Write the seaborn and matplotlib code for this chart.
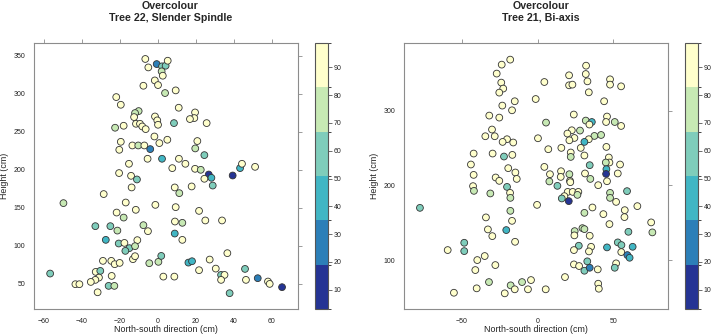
import numpy as np
import matplotlib
matplotlib.use('Agg')
import matplotlib.pyplot as plt
import matplotlib.colors as mcolors
import seaborn as sns

# ──────────────────────────────────────────────
# DATA
# ──────────────────────────────────────────────
# Tree 22, Slender Spindle
t22_ns = [-6.7, -5.1, -0.7, 2.1, 4.0, 5.1, 1.9, 2.5, -1.7, 0.0, -7.7, 3.7, 9.3, -22.0, -19.6,
          10.9, -10.2, -12.1, -12.6, -1.6, -0.4, 0.0, 8.4, -11.6, -9.5, -8.3, -6.5, -22.6, -18.1,
          -1.9, 0.7, 4.9, -19.6, -20.4, -13.5, -10.4, -7.2, -4.1, -5.5, 2.1, 11.0, 7.5, -15.3,
          -20.5, -14.2, -11.1, -13.9, 8.8, -28.6, -49.8, -17.0, -11.7, -1.4, 9.3, -21.8, -18.1,
          -33.0, -25.1, -21.4, -7.7, -5.3, 8.9, 8.8, -27.5, -10.9, -20.7, -17.7, -15.1, -17.2,
          -12.1, -29.0, -24.6, -22.8, -20.2, -13.2, -12.1, -4.6, 0.2, 1.7, -56.8, -32.8, -30.4,
          -31.1, -33.0, -35.4, -24.4, -43.5, -41.4, -26.0, -23.0, -31.8, 2.8, 8.6, 19.5, 19.1,
          16.8, 25.6, 20.7, 19.6, 24.4, 14.4, 19.5, 22.5, 26.7, 28.1, 24.4, 28.8, 39.3, 43.2,
          44.2, 51.1, 17.7, 11.2, 21.6, 12.8, 24.9, 33.7, 12.8, 36.5, 16.0, 17.9, 27.2, 21.6,
          30.4, 33.2, 35.0, 33.2, 37.7, 45.8, 46.3, 52.5, 57.9, 58.8, 65.3]
t22_height = [345.7, 334.6, 339.0, 336.0, 336.8, 343.4, 329.4, 323.7, 317.5, 311.4, 310.5, 300.9,
              304.4, 295.6, 285.5, 281.6, 277.2, 274.6, 269.3, 270.1, 265.0, 259.2, 261.4, 260.5,
              260.5, 257.0, 253.5, 255.3, 257.9, 243.8, 235.1, 239.5, 236.8, 226.3, 232.0, 232.0,
              232.0, 227.2, 214.5, 214.5, 214.5, 202.2, 207.9, 195.7, 192.1, 187.3, 176.8, 176.8,
              168.1, 156.2, 157.0, 147.4, 153.9, 150.9, 143.8, 137.2, 125.9, 125.9, 120.1, 127.2,
              119.3, 132.0, 116.2, 107.9, 107.5, 103.1, 103.9, 97.0, 93.4, 99.6, 80.3, 80.3, 75.9,
              77.6, 82.5, 86.4, 77.2, 79.0, 86.8, 63.6, 65.8, 67.1, 58.3, 55.3, 52.6, 60.5, 49.6,
              49.6, 47.4, 47.4, 39.0, 59.6, 59.6, 275.4, 268.0, 266.7, 261.4, 237.8, 228.1, 219.3,
              207.9, 201.3, 200.0, 193.8, 189.5, 188.2, 179.3, 192.5, 202.2, 207.9, 203.9, 178.1,
              169.3, 146.0, 130.3, 133.4, 133.4, 107.9, 90.4, 78.0, 79.8, 82.0, 68.0, 70.1, 61.8,
              61.8, 55.3, 37.8, 69.7, 55.3, 57.5, 53.1, 50.0, 45.7]
t22_overcolour = [91, 91, 27, 59, 59, 91, 75, 91, 91, 91, 91, 75, 91, 91, 91,
                  91, 75, 75, 91, 91, 91, 91, 59, 91, 91, 91, 91, 75, 91,
                  91, 91, 91, 91, 91, 91, 75, 91, 27, 91, 43, 91, 91, 91,
                  91, 91, 59, 91, 91, 91, 75, 91, 91, 91, 91, 91, 75,
                  59, 59, 75, 75, 91, 91, 43, 43, 91, 59, 91, 59, 59,
                  75, 91, 91, 91, 91, 91, 91, 75, 75, 59, 59, 91, 59,
                  91, 91, 91, 91, 91, 91, 59, 75, 91, 91, 91, 91, 91,
                  91, 91, 91, 75, 59, 91, 91, 75, 10, 43, 91, 59, 10, 43,
                  91, 91, 91, 75, 91, 75, 91, 91, 91, 91, 43, 43, 91, 91,
                  91, 59, 91, 91, 59, 59, 91, 27, 91, 91, 10]

# Tree 21, Bi-axis
t21_ns = [-18.0, -23.6, -26.9, -23.9, -22.6, -25.2, -15.0, -23.2, -16.8, -1.2, -31.8, -25.2,
          -30.0, -34.4, -28.2, -20.1, -23.0, -16.0, 0.3, -42.1, -29.6, -22.1, -16.6, -43.9,
          -19.3, -42.1, -14.6, -13.7, -27.6, -25.2, -20.1, -42.5, -41.9, -31.1, -18.1, -17.9,
          -77.5, -0.3, -17.9, -34.0, -16.8, -32.7, -29.8, -20.6, -14.8, -48.3, -48.3, -59.2,
          -39.7, -34.8, -27.8, -41.0, -32.0, -40.1, -55.1, -17.7, -15.0, -21.6, -10.2, -6.3,
          -4.3, 32.0, 31.8, 20.8, 4.5, 20.8, 23.0, 32.9, 47.8, 47.8, 55.1, 33.8, 43.9, 23.9,
          5.6, 31.8, 35.8, 34.2, 45.8, 45.2, 50.9, 55.1, 22.6, 19.7, 24.3, 21.0, 28.0, 37.5,
          41.9, 33.8, 30.9, 7.1, 15.7, 28.5, 45.4, 21.9, 21.9, 30.9, 47.0, 47.4, 4.5, 34.4,
          45.0, 45.4, 45.2, 54.4, 52.9, 8.2, 15.5, 21.0, 21.4, 15.3, 31.3, 34.8, 7.8, 13.1,
          40.0, 45.8, 59.0, 21.6, 19.9, 23.2, 26.9, 26.3, 17.7, 16.0, 20.6, 47.8, 47.8, 51.8,
          36.2, 30.9, 43.4, 57.5, 57.3, 65.8, 47.4, 74.9, 75.7, 29.6, 30.9, 24.5, 24.3, 34.4,
          59.9, 52.9, 55.3, 27.2, 35.3, 24.0, 33.9, 45.8, 55.2, 59.2, 60.7, 62.7, 32.8, 24.0,
          27.4, 30.9, 34.4, 39.7, 51.8, 50.9, 18.1, 40.0, 40.4, 5.4]
t21_height = [368.7, 362.0, 350.0, 337.9, 329.9, 324.5, 312.9, 307.1, 300.8, 315.9, 293.7, 291.0,
              275.0, 266.0, 266.0, 262.0, 258.4, 257.6, 263.3, 242.8, 242.8, 238.8, 241.0, 228.1,
              223.2, 214.2, 217.4, 208.8, 210.7, 206.2, 198.1, 199.1, 192.8, 189.3, 190.1, 183.4,
              170.0, 174.0, 166.0, 157.2, 152.6, 141.1, 132.1, 140.2, 124.5, 123.2, 112.0, 113.4,
              100.0, 105.4, 93.3, 86.6, 70.5, 62.1, 56.2, 66.1, 60.8, 55.4, 70.5, 60.8,
              73.2, 360.6, 349.4, 347.7, 338.7, 334.3, 335.2, 339.6, 342.3, 335.2, 332.9, 324.9,
              312.9, 295.1, 284.3, 287.0, 285.1, 281.7, 292.4, 285.1, 285.1, 279.8, 274.0, 269.6,
              263.7, 260.6, 273.6, 266.4, 267.7, 262.0, 258.4, 248.6, 250.4, 250.4, 251.7, 244.2,
              238.3, 240.2, 237.5, 230.8, 224.9, 227.2, 230.8, 221.8, 215.5, 228.1, 216.1, 215.1,
              219.1, 215.1, 206.2, 211.5, 216.1, 208.8, 205.4, 199.5, 200.4, 205.7, 192.4, 204.4,
              191.4, 191.4, 191.4, 187.4, 185.7, 182.6, 179.0, 190.1, 183.4, 178.0, 170.5, 163.3,
              161.6, 166.9, 157.6, 172.3, 148.2, 150.5, 137.1, 142.8, 141.5, 138.8, 133.1, 132.6,
              137.9, 123.7, 120.1, 119.2, 117.8, 113.4, 111.6, 117.0, 110.7, 106.7, 103.1, 117.8,
              98.3, 94.2, 92.0, 85.7, 89.7, 87.5, 95.6, 89.7, 77.2, 68.3, 61.6, 60.8]
t21_overcolour = [91, 91, 91, 91, 91, 91, 91, 91, 91, 91, 91, 91,
                  91, 91, 91, 91, 91, 91, 91, 91, 91, 59, 91, 91,
                  91, 91, 91, 91, 91, 91, 59, 91, 75, 75, 91, 75,
                  59, 91, 75, 91, 91, 91, 91, 43, 91, 59, 59, 91,
                  91, 91, 91, 91, 75, 91, 91, 75, 91, 91, 75, 91,
                  91, 91, 91, 91, 91, 91, 91, 91, 91, 91, 91, 91,
                  91, 91, 75, 75, 43, 91, 91, 91, 75, 91, 91, 91,
                  91, 91, 75, 75, 75, 91, 43, 91, 91, 91, 91, 91,
                  75, 91, 91, 91, 91, 59, 75, 43, 10, 91, 91, 91,
                  91, 75, 91, 91, 91, 75, 75, 59, 91, 91, 59, 91,
                  91, 91, 91, 75, 91, 59, 10, 75, 75, 91, 91, 75,
                  91, 91, 91, 91, 91, 91, 75, 75, 75, 75, 91, 91,
                  59, 59, 59, 59, 91, 91, 91, 43, 91, 27, 43, 43,
                  59, 91, 91, 59, 27, 91, 91, 59, 91, 91, 91, 91]

cbar_ticks = [10, 20, 30, 40, 50, 60, 70, 80, 90]

# ──────────────────────────────────────────────
# STYLE
# ──────────────────────────────────────────────
sns.set_style('white')
plt.rcParams['font.family'] = ['Liberation Sans', 'DejaVu Sans']

PALETTE = ['#253494', '#2c7fb8', '#41b6c4', '#7fcdbb', '#c7e9b4', '#ffffcc']
cmap = mcolors.ListedColormap(PALETTE)
bounds = np.linspace(3.1, 98.7, len(PALETTE) + 1)
norm = mcolors.BoundaryNorm(bounds, cmap.N)

FRAME = '#8c8c8c'
W, H = 719, 336

fig = plt.figure(figsize=(W / 100, H / 100), dpi=100)


def px_axes(left, top, right, bottom):
    return fig.add_axes([left / W, 1 - bottom / H, (right - left) / W, (bottom - top) / H])


def panel(ax, cax, x, y, val, xlim, ylim, xticks, yticks, title, cx):
    sns.scatterplot(x=x, y=y, hue=val, palette=cmap, hue_norm=norm, s=24,
                    edgecolor='#333333', linewidth=0.6, legend=False, ax=ax)
    ax.set_xlim(xlim)
    ax.set_ylim(ylim)
    ax.set_xticks(xticks)
    ax.set_yticks(yticks)
    ax.tick_params(direction='out', length=3.1, width=0.6, color=FRAME, labelsize=5,
                   pad=3.2, top=True, right=True, labeltop=False, labelright=False,
                   labelcolor='#222222')
    for sp in ax.spines.values():
        sp.set_color(FRAME)
        sp.set_linewidth(0.8)
    ax.set_xlabel('North-south direction (cm)', fontsize=6.4, color='#222222')
    ax.set_ylabel('Height (cm)', fontsize=6.4, color='#222222')
    # reference label sits right at the bottom edge; keep it just inside the canvas
    ax.xaxis.set_label_coords(0.5, -0.062)
    ax.yaxis.set_label_coords(-0.095, 0.5)

    cb = fig.colorbar(plt.cm.ScalarMappable(norm=norm, cmap=cmap), cax=cax, ticks=cbar_ticks)
    cb.outline.set_edgecolor('#555555')
    cb.outline.set_linewidth(0.8)
    cax.tick_params(direction='out', length=3, width=0.6, color='#555555', labelsize=5,
                    pad=1, labelcolor='#222222')

    fig.text(cx / W, 1 - 9.3 / H, 'Overcolour', ha='center', va='baseline',
             fontsize=7.7, fontweight='bold')
    fig.text(cx / W, 1 - 21 / H, title, ha='center', va='baseline',
             fontsize=7.7, fontweight='bold')


ax1 = px_axes(34, 43, 298, 309)
cax1 = px_axes(315, 43, 328, 309)
panel(ax1, cax1, t22_ns, t22_height, t22_overcolour, (-65.3, 73.7), (17, 366.7),
      [-60, -40, -20, 0, 20, 40, 60], [50, 100, 150, 200, 250, 300, 350],
      'Tree 22, Slender Spindle', 170.5)

ax2 = px_axes(404, 43, 668, 309)
cax2 = px_axes(685, 43, 698, 309)
panel(ax2, cax2, t21_ns, t21_height, t21_overcolour, (-88, 86), (34.4, 391),
      [-50, 0, 50], [100, 200, 300], 'Tree 21, Bi-axis', 541)

fig.savefig('out.png', dpi=100)
